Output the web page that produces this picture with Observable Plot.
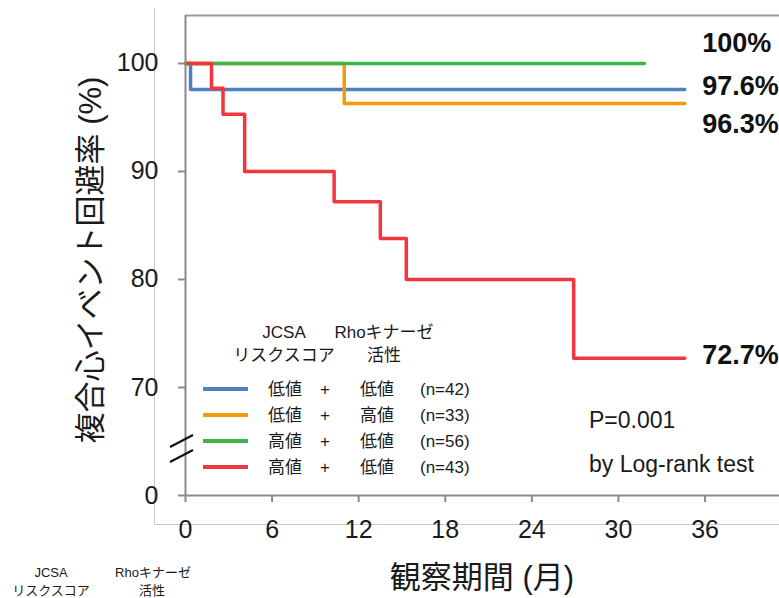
<!DOCTYPE html>
<html>
<head>
<meta charset="utf-8">
<script src="https://cdn.jsdelivr.net/npm/d3@7"></script>
<script src="https://cdn.jsdelivr.net/npm/@observablehq/plot@0.6"></script>
<style>
  html, body { margin: 0; padding: 0; background: white; }
  #chart { width: 779px; height: 598px; overflow: hidden; }
</style>
</head>
<body>
<div id="chart"></div>
<script>
// ---------- data ----------
const groupKeys = ["LL", "LH", "HL", "HH"];
const jcsaLevel = ["低値", "低値", "高値", "高値"];
const rhoLevel  = ["低値", "高値", "低値", "低値"];
const nCounts   = [42, 33, 56, 43];
const groupColors = ["#4f80c0", "#f59b0a", "#3cb64a", "#f0363f"];

// step curves: time (months), event-free rate (%)
const llTime = [0, 0.35, 34.6];
const llRate = [100, 97.6, 97.6];
const lhTime = [0, 11.0, 34.6];
const lhRate = [100, 96.3, 96.3];
const hlTime = [0, 31.8];
const hlRate = [100, 100];
const hhTime = [0, 1.8, 2.6, 4.1, 10.3, 13.5, 15.3, 26.9, 34.6];
const hhRate = [100, 97.7, 95.3, 90.0, 87.2, 83.8, 80.0, 72.7, 72.7];

const endLabels = ["100%", "97.6%", "96.3%", "72.7%"];
const endLabelY = [101.9, 97.9, 94.4, 73.0];
const endLabelX = 35.8;

const xTicks = [0, 6, 12, 18, 24, 30, 36];
const yTicks = [0, 70, 80, 90, 100];

// ---------- build table ----------
const curves = [
  [llTime, llRate], [lhTime, lhRate], [hlTime, hlRate], [hhTime, hhRate]
];
const rows = [];
curves.forEach(([ts, ss], i) => {
  ts.forEach((t, j) => rows.push({group: groupKeys[i], t, s: ss[j]}));
});
const labelRows = endLabels.map((txt, i) => ({txt, y: endLabelY[i], x: endLabelX}));

const FONT = "'Liberation Sans', Arial, 'Noto Sans CJK JP', sans-serif";
const TXT = "#1a1a1a";
const AX = "#8a8a8a";

const W = 779, H = 598;
const mL = 185, mR = 0, mT = 15, mB = 103;

const chart = Plot.plot({
  width: W,
  height: H,
  marginLeft: mL,
  marginRight: mR,
  marginTop: mT,
  marginBottom: mB,
  style: {fontFamily: FONT, background: "white", color: TXT},
  x: {domain: [0, 41.16], ticks: xTicks},
  y: {type: "linear", domain: [0, 70, 104.44], range: [495, 387, 15]},
  color: {domain: groupKeys, range: groupColors},
  marks: [
    Plot.ruleY([104.44], {stroke: "#9a9a9a", strokeWidth: 2}),
    Plot.line(rows, {x: "t", y: "s", z: "group", stroke: "group", curve: "step-after", strokeWidth: 3.5}),
    Plot.axisX({ticks: xTicks, tickSize: 7, tickPadding: 18, fontSize: 25, stroke: AX, strokeWidth: 2, label: null, fill: TXT}),
    Plot.axisY({ticks: yTicks, tickSize: 7, tickPadding: 20, fontSize: 25, stroke: AX, strokeWidth: 2, label: null, fill: TXT}),
    Plot.ruleX([0], {stroke: AX, strokeWidth: 2, y1: 0, y2: 104.44}),
    Plot.ruleY([0], {stroke: AX, strokeWidth: 2}),
    Plot.text(labelRows, {x: "x", y: "y", text: "txt", textAnchor: "start", fontWeight: "bold", fontSize: 27, fill: "#111"})
  ]
});

document.getElementById("chart").appendChild(chart);

// ---------- decorations ----------
const svg = d3.select(chart);
svg.style("overflow", "hidden");

// outer light frame
svg.insert("line", ":first-child").attr("x1", 154.5).attr("x2", 154.5).attr("y1", 8).attr("y2", 524.5)
  .attr("stroke", "#c8c8c8").attr("stroke-width", 1);
svg.insert("line", ":first-child").attr("x1", 154.5).attr("x2", W).attr("y1", 524.5).attr("y2", 524.5)
  .attr("stroke", "#c8c8c8").attr("stroke-width", 1);

// axis break marks
const brk = svg.append("g").attr("stroke", "#111").attr("stroke-width", 2.2);
[[170, 447, 193, 435], [170, 462, 193, 450]].forEach(([a, b, c, d]) =>
  brk.append("line").attr("x1", a).attr("y1", b).attr("x2", c).attr("y2", d));

// axis titles
svg.append("text").attr("transform", "translate(90,260) rotate(-90)")
  .attr("text-anchor", "middle").attr("dominant-baseline", "central")
  .attr("font-size", 31).attr("fill", TXT).attr("font-family", FONT)
  .text("複合心イベント回避率 (%)");
svg.append("text").attr("x", 482).attr("y", 588)
  .attr("text-anchor", "middle").attr("font-size", 31).attr("fill", TXT).attr("font-family", FONT)
  .text("観察期間 (月)");

// legend
const lg = svg.append("g").attr("font-family", FONT).attr("font-size", 17).attr("fill", TXT)
  .attr("text-anchor", "middle").attr("dominant-baseline", "central");
lg.append("text").attr("x", 284).attr("y", 332).text("JCSA");
lg.append("text").attr("x", 384).attr("y", 332).text("Rhoキナーゼ");
lg.append("text").attr("x", 284).attr("y", 355).text("リスクスコア");
lg.append("text").attr("x", 384).attr("y", 355).text("活性");
groupKeys.forEach((k, i) => {
  const y = 389 + i * 26;
  lg.append("line").attr("x1", 203).attr("x2", 248).attr("y1", y).attr("y2", y)
    .attr("stroke", groupColors[i]).attr("stroke-width", 4);
  lg.append("text").attr("x", 285).attr("y", y).text(jcsaLevel[i]);
  lg.append("text").attr("x", 325).attr("y", y).text("+");
  lg.append("text").attr("x", 377).attr("y", y).text(rhoLevel[i]);
  lg.append("text").attr("x", 420).attr("y", y).attr("text-anchor", "start").text(`(n=${nCounts[i]})`);
});

// statistics note
svg.append("text").attr("x", 589).attr("y", 428).attr("text-anchor", "start").attr("font-size", 23).attr("fill", TXT)
  .attr("font-family", FONT).text("P=0.001");
svg.append("text").attr("x", 589).attr("y", 472).attr("text-anchor", "start").attr("font-size", 23).attr("fill", TXT)
  .attr("font-family", FONT).text("by Log-rank test");

// stray duplicated header at bottom-left
const bl = svg.append("g").attr("font-family", FONT).attr("font-size", 13).attr("fill", TXT)
  .attr("text-anchor", "middle").attr("dominant-baseline", "central");
bl.append("text").attr("x", 51).attr("y", 572).text("JCSA");
bl.append("text").attr("x", 153).attr("y", 572).text("Rhoキナーゼ");
bl.append("text").attr("x", 51).attr("y", 590).text("リスクスコア");
bl.append("text").attr("x", 152).attr("y", 590).text("活性");
</script>
</body>
</html>
